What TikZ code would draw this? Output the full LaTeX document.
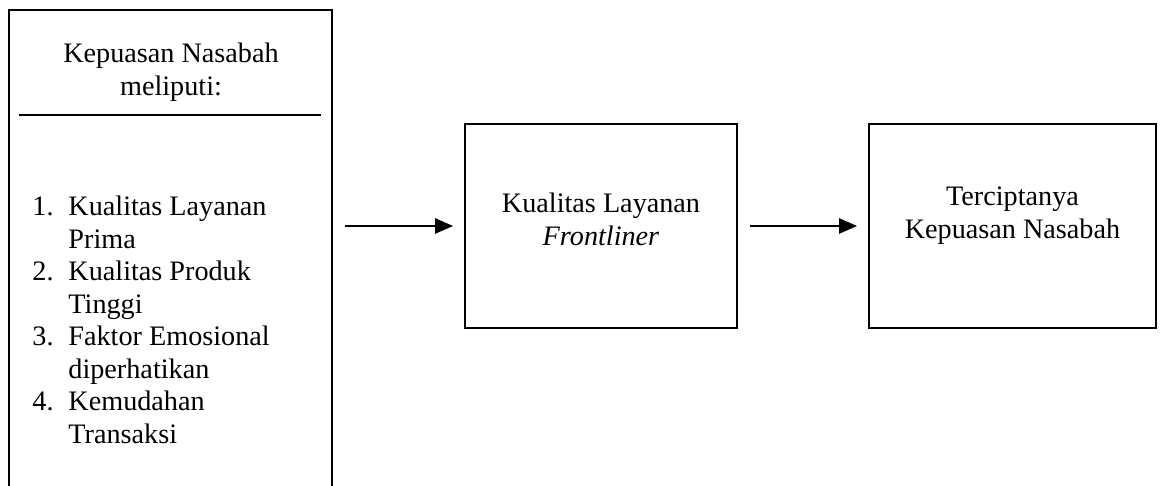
\documentclass[tikz,border=0pt]{standalone}
\usepackage{fontspec}
\setmainfont{Liberation Serif}
\usetikzlibrary{arrows.meta}

\tikzset{
  box/.style={draw, line width=1.1pt, inner sep=0pt, outer sep=0pt},
  txt/.style={inner sep=0pt, font=\fontsize{12}{13.8}\selectfont},
  flow/.style={line width=0.9pt, -{Triangle[length=7.6pt,width=6.4pt]},
    shorten <=5.5pt, shorten >=5.1pt}
}

\begin{document}
\begin{tikzpicture}[x=0.4255pt,y=-0.4255pt]
	 \clip (0,0) rectangle (1160,486);
	 % the three boxes
	 \node[box, minimum width=137.4pt, minimum height=208.5pt] (criteria) at (170.5,255) {};
	 \node[box, minimum width=115.7pt, minimum height=86.8pt] (service) at (601,226) {};
	 \node[box, minimum width=122.1pt, minimum height=86.8pt] (result) at (1012.5,226) {};
	 % texts
	 \node[txt, anchor=base] (title) at (171,63)
	   {\begin{tabular}[t]{@{}c@{}}Kepuasan Nasabah\\ meliputi:\end{tabular}};
	 \draw[line width=0.5pt] (19,115) -- (321,115);
	 \node[txt, anchor=base west] (items) at (32,216)
	   {\begin{tabular}[t]{@{}l@{\hspace{6.3pt}}l@{}}
	     1. & Kualitas Layanan\\
	        & Prima\\
	     2. & Kualitas Produk\\
	        & Tinggi\\
	     3. & Faktor Emosional\\
	        & diperhatikan\\
	     4. & Kemudahan\\
	        & Transaksi
	   \end{tabular}};
	 \node[txt, anchor=base] (servicetext) at (601,213)
	   {\begin{tabular}[t]{@{}c@{}}Kualitas Layanan\\ \textit{Frontliner}\end{tabular}};
	 \node[txt, anchor=base] (resulttext) at (1012.5,206)
	   {\begin{tabular}[t]{@{}c@{}}Terciptanya\\ Kepuasan Nasabah\end{tabular}};
	 % arrows
	 \draw[flow] (criteria.east |- service.west) -- (service.west);
	 \draw[flow] (service) -- (result);
\end{tikzpicture}
\end{document}
